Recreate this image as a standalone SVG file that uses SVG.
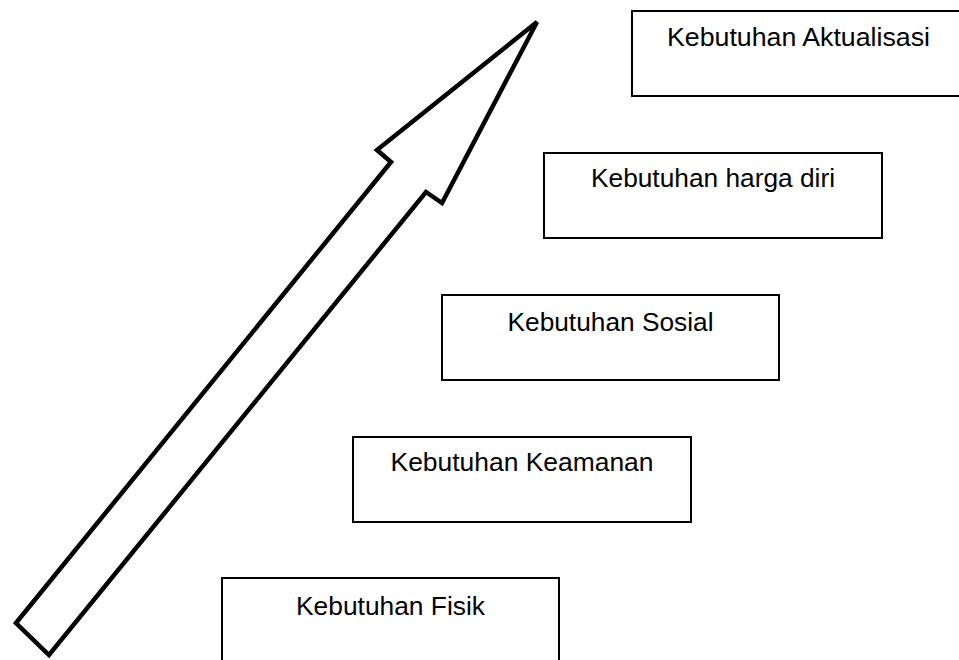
<svg xmlns="http://www.w3.org/2000/svg" width="959" height="660" viewBox="0 0 959 660">
<style>
.box{fill:#fff;stroke:#000;stroke-width:2}
.lbl{font-family:"Liberation Sans",Arial,sans-serif;font-size:26.5px;fill:#000;text-anchor:middle}
.arrow{fill:#fff;stroke:#000;stroke-width:4.5;stroke-linejoin:miter}
</style>
<rect width="959" height="660" fill="#fff"/>
<g id="connectors">
<path class="arrow" d="M16,623 L391,162 L377,150 L537,22 L442,203 L426,192 L49,655 Z"/>
</g>
<g id="n_aktualisasi">
<rect class="box" x="632" y="11" width="334" height="85"/>
<text class="lbl" x="798.5" y="45.5" textLength="263" lengthAdjust="spacingAndGlyphs">Kebutuhan Aktualisasi</text>
</g>
<g id="n_harga_diri">
<rect class="box" x="544" y="153" width="338" height="85"/>
<text class="lbl" x="713" y="187" textLength="244" lengthAdjust="spacingAndGlyphs">Kebutuhan harga diri</text>
</g>
<g id="n_sosial">
<rect class="box" x="442" y="295" width="337" height="85"/>
<text class="lbl" x="610.5" y="331" textLength="206" lengthAdjust="spacingAndGlyphs">Kebutuhan Sosial</text>
</g>
<g id="n_keamanan">
<rect class="box" x="353" y="437" width="338" height="85"/>
<text class="lbl" x="522" y="471" textLength="263" lengthAdjust="spacingAndGlyphs">Kebutuhan Keamanan</text>
</g>
<g id="n_fisik">
<rect class="box" x="222" y="578" width="337" height="90"/>
<text class="lbl" x="390.5" y="615" textLength="189" lengthAdjust="spacingAndGlyphs">Kebutuhan Fisik</text>
</g>
</svg>
